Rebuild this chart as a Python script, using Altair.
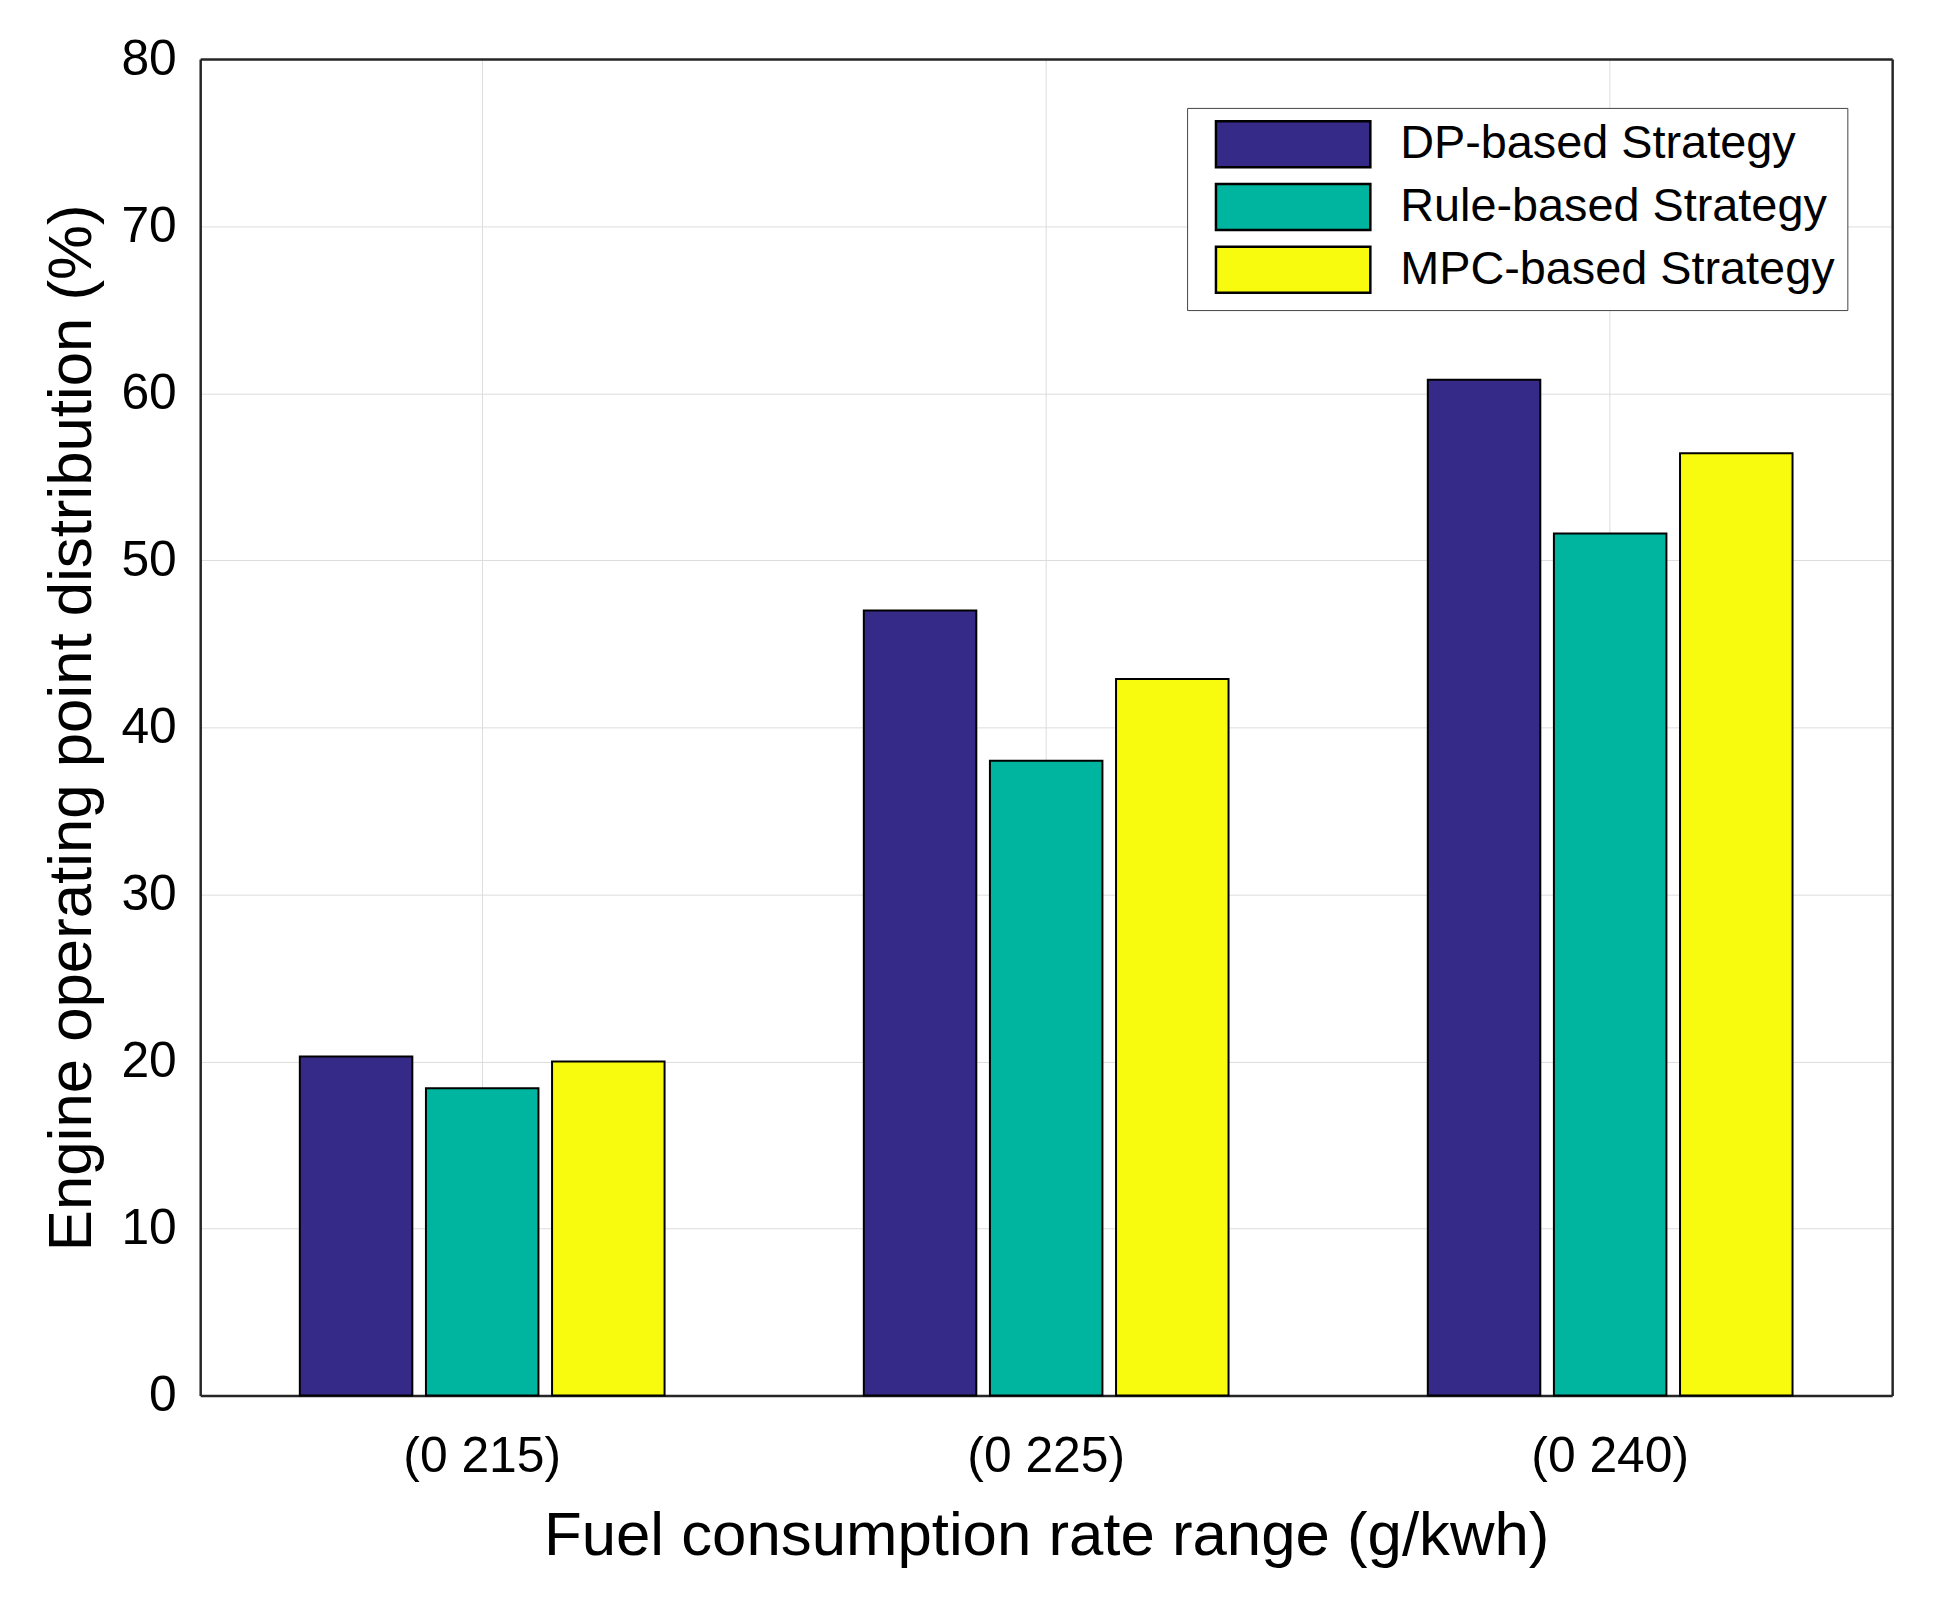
import altair as alt
import pandas as pd

categories = ["(0 215)", "(0 225)", "(0 240)"]
strategies = ["DP-based Strategy", "Rule-based Strategy", "MPC-based Strategy"]
dp_values = [20.3, 47.0, 60.8]
rule_values = [18.4, 38.0, 51.6]
mpc_values = [20.0, 42.9, 56.4]
colors = ["#352a87", "#00b59f", "#f9fb0e"]
y_ticks = [0, 10, 20, 30, 40, 50, 60, 70, 80]

rows = []
for s, vals in zip(strategies, [dp_values, rule_values, mpc_values]):
    for c, v in zip(categories, vals):
        rows.append({"range": c, "strategy": s, "value": v})
df = pd.DataFrame(rows)

FONT = "Liberation Sans"
TXT = "#262626"
FRAME = "#262626"

x_scale = alt.Scale(paddingInner=0, paddingOuter=0)
y_scale = alt.Scale(domain=[0, 80], nice=False)

bars = alt.Chart(df).mark_bar(stroke="black", strokeWidth=2).encode(
    x=alt.X("range:N", sort=categories, scale=x_scale,
            axis=alt.Axis(title="Fuel consumption rate range (g/kwh)", labelAngle=0,
                          bandPosition=0.5, ticks=False, domain=True,
                          domainColor=FRAME, domainWidth=2.5,
                          labelPadding=36, labelFontSize=50, titleFontSize=62,
                          titleFontWeight="normal",
                          titleY=160, titleBaseline="alphabetic",
                          grid=True)),
    xOffset=alt.XOffset("strategy:N", sort=strategies,
                        scale=alt.Scale(paddingInner=0.108, paddingOuter=0.79)),
    y=alt.Y("value:Q", scale=y_scale,
            axis=alt.Axis(title="Engine operating point distribution (%)", values=y_ticks,
                          ticks=False, domain=True, domainColor=FRAME, domainWidth=2.5,
                          labelPadding=24, labelFontSize=50, titleFontSize=62,
                          titleFontWeight="normal",
                          titleX=-110, titleBaseline="alphabetic", grid=True)),
    color=alt.Color("strategy:N", sort=strategies,
                    scale=alt.Scale(domain=strategies, range=colors),
                    legend=alt.Legend(title=None, orient="none", legendX=991, legendY=49,
                                      fillColor="white", strokeColor="#444444",
                                      padding=12, labelFontSize=47, labelFont=FONT,
                                      labelColor="black", labelLimit=1000,
                                      symbolType="M-3.37,-1L3.37,-1L3.37,1L-3.37,1Z",
                                      symbolSize=2116, symbolOffset=70,
                                      labelOffset=83,
                                      symbolStrokeColor="black",
                                      symbolStrokeWidth=2.5, symbolOpacity=1,
                                      rowPadding=6)),
)

frame = alt.Chart(df).mark_bar(opacity=0).encode(
    x=alt.X("range:N", sort=categories, scale=x_scale,
            axis=alt.Axis(orient="top", title=None, labels=False, ticks=False,
                          grid=False, domain=True, domainColor=FRAME, domainWidth=2.5)),
    y=alt.Y("value:Q", scale=y_scale,
            axis=alt.Axis(orient="right", title=None, labels=False, ticks=False,
                          grid=False, domain=True, domainColor=FRAME, domainWidth=2.5)),
)

chart = alt.layer(bars, frame).resolve_axis(
    x="independent", y="independent"
).properties(
    width=1699, height=1342,
    autosize=alt.AutoSizeParams(type="none"),
    padding={"left": 193, "top": 48, "right": 38, "bottom": 208},
).configure_view(
    stroke=None
).configure_axis(
    labelFont=FONT, titleFont=FONT, labelColor=TXT, titleColor=TXT,
    titleFontWeight="normal", gridColor="#e3e3e3", gridWidth=2,
).configure(background="white")

chart.save("out.html", embed_options={"renderer": "svg", "actions": False})
